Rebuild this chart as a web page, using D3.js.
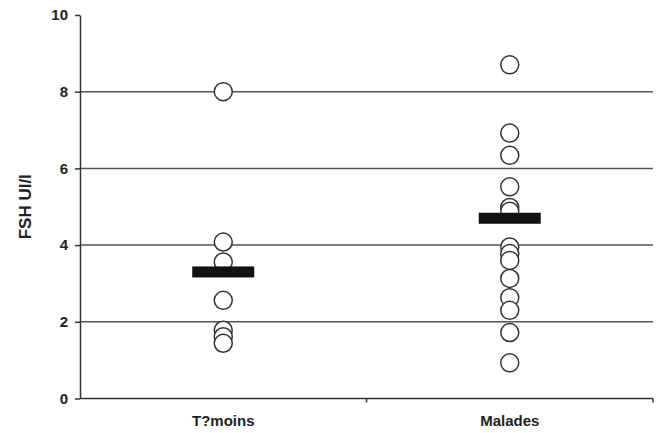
<!DOCTYPE html>
<html>
<head>
<meta charset="utf-8">
<script src="https://cdn.jsdelivr.net/npm/d3@7"></script>
<style>
  body { margin: 0; background: #fff; }
  text { font-family: "Liberation Sans", Arial, sans-serif; font-weight: bold; fill: #222; }
</style>
</head>
<body>
<div id="chart"></div>
<script>
let categories = ['T?moins', 'Malades'];
let temoins = [8.0, 4.08, 3.56, 2.56, 1.78, 1.61, 1.44];
let malades = [8.7, 6.92, 6.34, 5.52, 4.98, 4.88, 3.95, 3.78, 3.6, 3.13, 2.63, 2.3, 1.72, 0.93];
let means = [3.3, 4.7];
let yTicks = [0, 2, 4, 6, 8, 10];

let width = 663, height = 433;

let svg = d3.select('#chart').append('svg')
    .attr('width', width)
    .attr('height', height);

let x = d3.scaleBand().domain(categories).range([80, 653]);
let y = d3.scaleLinear().domain([0, 10]).range([398.5, 15]);

// gridlines
svg.append('g')
    .selectAll('line')
    .data(yTicks.filter(d => d > 0 && d < 10))
    .enter().append('line')
    .attr('x1', 80).attr('x2', 653)
    .attr('y1', d => y(d)).attr('y2', d => y(d))
    .attr('stroke', '#555')
    .attr('stroke-width', 1.5);

// y axis
let yAxis = svg.append('g')
    .attr('transform', 'translate(80,0)')
    .call(d3.axisLeft(y).tickValues(yTicks).tickSize(5).tickPadding(7).tickSizeOuter(0));
yAxis.select('.domain').attr('stroke', '#333').attr('stroke-width', 1.5);
yAxis.selectAll('.tick line').attr('stroke', '#333').attr('stroke-width', 1.5);
yAxis.selectAll('text').style('font-size', '15px').attr('fill', '#222');

// x axis
let xAxis = svg.append('g')
    .attr('transform', `translate(0,${y(0)})`)
    .call(d3.axisBottom(x).tickSize(0).tickPadding(17));
xAxis.select('.domain').remove();
xAxis.selectAll('text').style('font-size', '15px').attr('fill', '#222');
svg.append('line')
    .attr('x1', 80).attr('x2', 653)
    .attr('y1', y(0)).attr('y2', y(0))
    .attr('stroke', '#333').attr('stroke-width', 1.5);
svg.append('g')
    .selectAll('line')
    .data(categories.slice(1).map(c => x(c)).concat([x.range()[1]]))
    .enter().append('line')
    .attr('x1', d => d).attr('x2', d => d)
    .attr('y1', y(0)).attr('y2', y(0) + 4)
    .attr('stroke', '#333').attr('stroke-width', 1.5);

// y label
svg.append('text')
    .attr('transform', `translate(31,${y(5)}) rotate(-90)`)
    .attr('text-anchor', 'middle')
    .style('font-size', '17px')
    .text('FSH UI/l');

// points
let groups = [temoins, malades];
groups.forEach((vals, i) => {
    let cx = x(categories[i]) + x.bandwidth() / 2;
    svg.append('g')
        .selectAll('circle')
        .data(vals)
        .enter().append('circle')
        .attr('cx', cx)
        .attr('cy', d => y(d))
        .attr('r', 9)
        .attr('fill', '#fff')
        .attr('stroke', '#333')
        .attr('stroke-width', 1.5);
});

// mean bars
svg.append('g')
    .selectAll('rect')
    .data(means)
    .enter().append('rect')
    .attr('x', (d, i) => x(categories[i]) + x.bandwidth() / 2 - 31)
    .attr('y', d => y(d) - 5.5)
    .attr('width', 62)
    .attr('height', 11)
    .attr('fill', '#111');
</script>
</body>
</html>
